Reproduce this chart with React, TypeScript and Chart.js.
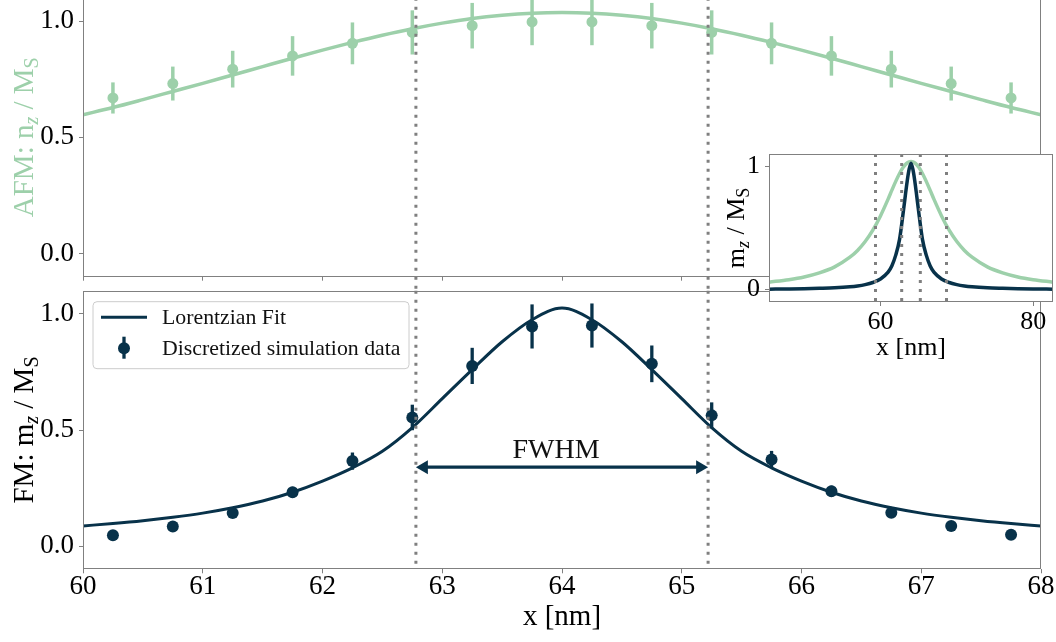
import React, { useEffect, useRef } from 'react';
import { Chart, registerables } from 'chart.js';
Chart.register(...registerables);

// ---------------- data ----------------
const fitX = [60, 60.25, 60.5, 60.75, 61, 61.25, 61.5, 61.75, 62, 62.25, 62.5, 62.75, 63, 63.25, 63.5, 63.75, 64,
  64.25, 64.5, 64.75, 65, 65.25, 65.5, 65.75, 66, 66.25, 66.5, 66.75, 67, 67.25, 67.5, 67.75, 68];
const fmFit = [0.087, 0.097, 0.109, 0.124, 0.142, 0.165, 0.194, 0.232, 0.280, 0.337, 0.408, 0.510, 0.635, 0.760, 0.880, 0.975, 1.025,
  0.975, 0.880, 0.760, 0.635, 0.510, 0.408, 0.337, 0.280, 0.232, 0.194, 0.165, 0.142, 0.124, 0.109, 0.097, 0.087];
const afmFit = [0.597, 0.628, 0.662, 0.697, 0.732, 0.768, 0.804, 0.840, 0.875, 0.908, 0.939, 0.967, 0.991, 1.011, 1.025, 1.034, 1.037,
  1.034, 1.025, 1.011, 0.991, 0.967, 0.939, 0.908, 0.875, 0.840, 0.804, 0.768, 0.732, 0.697, 0.662, 0.628, 0.597];

const dataX = [60.25, 60.75, 61.25, 61.75, 62.25, 62.75, 63.25, 63.75, 64.25, 64.75, 65.25, 65.75, 66.25, 66.75, 67.25, 67.75];
const fmData = [0.047, 0.084, 0.143, 0.232, 0.366, 0.554, 0.776, 0.946, 0.950, 0.785, 0.563, 0.373, 0.236, 0.144, 0.086, 0.049];
const fmErr = [0.005, 0.008, 0.014, 0.023, 0.037, 0.055, 0.078, 0.095, 0.095, 0.079, 0.056, 0.037, 0.024, 0.014, 0.009, 0.005];
const afmData = [0.669, 0.731, 0.793, 0.850, 0.904, 0.951, 0.980, 0.996, 0.996, 0.980, 0.951, 0.904, 0.850, 0.793, 0.731, 0.669];
const afmErr = [0.067, 0.073, 0.079, 0.085, 0.090, 0.095, 0.098, 0.100, 0.100, 0.098, 0.095, 0.090, 0.085, 0.079, 0.073, 0.067];

const insetX = [45.4, 48, 50, 52, 54, 56, 57, 58, 59, 60, 61, 61.5, 62, 62.5, 63, 63.25, 63.5, 63.75, 64, 64.25, 64.5, 64.75, 65,
  65.5, 66, 66.5, 67, 68, 69, 70, 71, 72, 74, 76, 78, 80, 82.6];
const insetAFM = [0.061, 0.081, 0.103, 0.136, 0.185, 0.263, 0.318, 0.390, 0.482, 0.598, 0.734, 0.807, 0.878, 0.942, 0.994, 1.013,
  1.028, 1.037, 1.040, 1.037, 1.028, 1.013, 0.994, 0.942, 0.878, 0.807, 0.734, 0.598, 0.482, 0.390, 0.318, 0.263, 0.185, 0.136,
  0.103, 0.081, 0.061];
const insetFM = [0.004, 0.006, 0.008, 0.011, 0.015, 0.023, 0.030, 0.041, 0.058, 0.087, 0.142, 0.194, 0.280, 0.408, 0.635, 0.760,
  0.880, 0.975, 1.025, 0.975, 0.880, 0.760, 0.635, 0.408, 0.280, 0.194, 0.142, 0.087, 0.058, 0.041, 0.030, 0.023, 0.015, 0.011,
  0.008, 0.006, 0.004];

const mainXTicks = [60, 61, 62, 63, 64, 65, 66, 67, 68];
const mainYTicks = [0, 0.5, 1.0];
const insetXTicks = [60, 80];
const insetYTicks = [0, 1];
const fwhmLines = [62.78, 65.22];
const insetLines = [59.35, 62.78, 65.22, 68.65];
const fwhmArrowY = 0.34;
const fwhmLabel = { text: 'FWHM', x: 63.95, y: 0.409 };
const seriesNames = ['Lorentzian Fit', 'Discretized simulation data'];

// ---------------- style ----------------
const GREEN = '#9dd0aa';
const NAVY = '#08324a';
const SPINE = '#808080';
const DOTC = '#7f7f7f';
const SERIF = "'Liberation Serif', 'DejaVu Serif', serif";

type Part = { t: string; sub?: boolean; it?: boolean };
const topLabel: Part[] = [{ t: 'AFM: n' }, { t: 'z', sub: true, it: true }, { t: ' / M' }, { t: 'S', sub: true }];
const botLabel: Part[] = [{ t: 'FM: m' }, { t: 'z', sub: true, it: true }, { t: ' / M' }, { t: 'S', sub: true }];
const insLabel: Part[] = [{ t: 'm' }, { t: 'z', sub: true, it: true }, { t: ' / M' }, { t: 'S', sub: true }];

const zip = (xs: number[], ys: number[]) => xs.map((x, i) => ({ x, y: ys[i] }));

function richText(ctx: CanvasRenderingContext2D, parts: Part[], size: number, cx: number, cy: number, rotated: boolean, color: string) {
  ctx.save();
  ctx.fillStyle = color;
  ctx.textBaseline = 'alphabetic';
  ctx.textAlign = 'left';
  const fontFor = (p: Part) => `${p.it ? 'italic ' : ''}${p.sub ? Math.round(size * 0.7) : size}px ${SERIF}`;
  let total = 0;
  const widths = parts.map((p) => {
    ctx.font = fontFor(p);
    const w = ctx.measureText(p.t).width;
    total += w;
    return w;
  });
  ctx.translate(cx, cy);
  if (rotated) ctx.rotate(-Math.PI / 2);
  let x = -total / 2;
  parts.forEach((p, i) => {
    ctx.font = fontFor(p);
    ctx.fillText(p.t, x, p.sub ? size * 0.2 : 0);
    x += widths[i];
  });
  ctx.restore();
}

function dotted(ctx: CanvasRenderingContext2D, x: number, y1: number, y2: number) {
  ctx.save();
  ctx.strokeStyle = DOTC;
  ctx.lineWidth = 3;
  ctx.setLineDash([3, 6]);
  ctx.lineCap = 'butt';
  ctx.beginPath();
  ctx.moveTo(x, y1);
  ctx.lineTo(x, y2);
  ctx.stroke();
  ctx.restore();
}

type PanelOpts = {
  err?: { xs: number[]; ys: number[]; es: number[]; color: string; width: number; index: number };
  vlines: number[];
  vlineToCanvasBottom?: boolean;
  ylabel: { parts: Part[]; size: number; color: string; baselineX: number };
  white?: boolean;
  extra?: (chart: any) => void;
};

function panelPlugin(o: PanelOpts) {
  return {
    id: 'panel',
    beforeDraw(chart: any) {
      if (o.white) {
        const ca = chart.chartArea;
        const ctx = chart.ctx;
        ctx.save();
        ctx.fillStyle = '#ffffff';
        ctx.fillRect(ca.left, ca.top, ca.right - ca.left, ca.bottom - ca.top);
        ctx.restore();
      }
    },
    beforeDatasetDraw(chart: any, args: any) {
      if (o.err && args.index === o.err.index) {
        const { xs, ys, es, color, width } = o.err;
        const sx = chart.scales.x;
        const sy = chart.scales.y;
        const ctx = chart.ctx;
        ctx.save();
        ctx.strokeStyle = color;
        ctx.lineWidth = width;
        ctx.lineCap = 'butt';
        xs.forEach((x, i) => {
          const px = sx.getPixelForValue(x);
          ctx.beginPath();
          ctx.moveTo(px, sy.getPixelForValue(ys[i] - es[i]));
          ctx.lineTo(px, sy.getPixelForValue(ys[i] + es[i]));
          ctx.stroke();
        });
        ctx.restore();
      }
    },
    afterDatasetsDraw(chart: any) {
      const ca = chart.chartArea;
      const ctx = chart.ctx;
      const sx = chart.scales.x;
      o.vlines.forEach((v) => dotted(ctx, sx.getPixelForValue(v), ca.top, o.vlineToCanvasBottom ? chart.height : ca.bottom));
      if (o.extra) o.extra(chart);
    },
    afterDraw(chart: any) {
      const ca = chart.chartArea;
      const ctx = chart.ctx;
      ctx.save();
      ctx.strokeStyle = SPINE;
      ctx.lineWidth = 1;
      const l = Math.round(ca.left) + 0.5;
      const t = Math.round(ca.top) + 0.5;
      const r = Math.round(ca.right) - 0.5;
      const b = Math.round(ca.bottom) - 0.5;
      ctx.strokeRect(l, t, r - l, b - t);
      ctx.restore();
      richText(ctx, o.ylabel.parts, o.ylabel.size, o.ylabel.baselineX, (ca.top + ca.bottom) / 2, true, o.ylabel.color);
    },
  };
}

function xAxis(min: number, max: number, ticks: number[], showLabels: boolean, height: number, fontSize: number, tickPad: number, title?: { text: string; size: number; pb: number }) {
  return {
    type: 'linear',
    min,
    max,
    afterBuildTicks: (s: any) => {
      s.ticks = ticks.map((v) => ({ value: v }));
    },
    afterFit: (s: any) => {
      s.height = height;
      s.paddingLeft = 0;
      s.paddingRight = 0;
      s.paddingTop = 0;
      s.paddingBottom = 0;
    },
    grid: { display: true, drawOnChartArea: false, drawTicks: true, tickLength: 4, color: SPINE, lineWidth: 1 },
    border: { display: false },
    ticks: {
      display: showLabels,
      color: '#000',
      font: { family: SERIF, size: fontSize, lineHeight: 1 },
      padding: tickPad,
      maxRotation: 0,
      autoSkip: false,
      callback: (v: any) => String(v),
    },
    title: title
      ? { display: true, text: title.text, color: '#000', font: { family: SERIF, size: title.size, lineHeight: 1 }, padding: { top: 0, bottom: title.pb } }
      : { display: false },
  };
}

function yAxis(min: number, max: number, ticks: number[], width: number, fontSize: number, digits: number) {
  return {
    type: 'linear',
    min,
    max,
    afterBuildTicks: (s: any) => {
      s.ticks = ticks.map((v) => ({ value: v }));
    },
    afterFit: (s: any) => {
      s.width = width;
      s.paddingTop = 0;
      s.paddingBottom = 0;
      s.paddingLeft = 0;
      s.paddingRight = 0;
    },
    grid: { display: true, drawOnChartArea: false, drawTicks: true, tickLength: 4, color: SPINE, lineWidth: 1 },
    border: { display: false },
    ticks: {
      color: '#000',
      font: { family: SERIF, size: fontSize, lineHeight: 1 },
      padding: 5,
      autoSkip: false,
      callback: (v: any) => Number(v).toFixed(digits),
    },
  };
}

const baseOptions = (padding: any) => ({
  responsive: false,
  animation: false,
  events: [],
  layout: { padding },
  plugins: { legend: { display: false }, tooltip: { enabled: false }, title: { display: false } },
});

function drawLegendAndArrow(chart: any) {
  const ctx = chart.ctx;
  const ca = chart.chartArea;
  const sx = chart.scales.x;
  const sy = chart.scales.y;
  // FWHM arrow
  const xl = sx.getPixelForValue(fwhmLines[0]);
  const xr = sx.getPixelForValue(fwhmLines[1]);
  const ya = sy.getPixelForValue(fwhmArrowY);
  ctx.save();
  ctx.strokeStyle = NAVY;
  ctx.fillStyle = NAVY;
  ctx.lineWidth = 3.3;
  ctx.beginPath();
  ctx.moveTo(xl + 8, ya);
  ctx.lineTo(xr - 8, ya);
  ctx.stroke();
  ctx.beginPath();
  ctx.moveTo(xl, ya);
  ctx.lineTo(xl + 12, ya - 7);
  ctx.lineTo(xl + 12, ya + 7);
  ctx.closePath();
  ctx.fill();
  ctx.beginPath();
  ctx.moveTo(xr, ya);
  ctx.lineTo(xr - 12, ya - 7);
  ctx.lineTo(xr - 12, ya + 7);
  ctx.closePath();
  ctx.fill();
  ctx.fillStyle = '#111';
  ctx.font = `28px ${SERIF}`;
  ctx.textAlign = 'center';
  ctx.textBaseline = 'middle';
  ctx.fillText(fwhmLabel.text, sx.getPixelForValue(fwhmLabel.x), sy.getPixelForValue(fwhmLabel.y));
  ctx.restore();

  // legend
  const bx = ca.left + 10;
  const by = ca.top + 11;
  const bw = 316;
  const bh = 67;
  const rr = 4;
  ctx.save();
  ctx.beginPath();
  ctx.moveTo(bx + rr, by);
  ctx.lineTo(bx + bw - rr, by);
  ctx.arcTo(bx + bw, by, bx + bw, by + rr, rr);
  ctx.lineTo(bx + bw, by + bh - rr);
  ctx.arcTo(bx + bw, by + bh, bx + bw - rr, by + bh, rr);
  ctx.lineTo(bx + rr, by + bh);
  ctx.arcTo(bx, by + bh, bx, by + bh - rr, rr);
  ctx.lineTo(bx, by + rr);
  ctx.arcTo(bx, by, bx + rr, by, rr);
  ctx.closePath();
  ctx.fillStyle = 'rgba(255,255,255,0.8)';
  ctx.fill();
  ctx.strokeStyle = '#cccccc';
  ctx.lineWidth = 1;
  ctx.stroke();
  ctx.strokeStyle = NAVY;
  ctx.lineWidth = 3;
  ctx.beginPath();
  ctx.moveTo(bx + 8, by + 15.6);
  ctx.lineTo(bx + 54, by + 15.6);
  ctx.stroke();
  ctx.lineWidth = 3.3;
  ctx.beginPath();
  ctx.moveTo(bx + 31, by + 35);
  ctx.lineTo(bx + 31, by + 57);
  ctx.stroke();
  ctx.fillStyle = NAVY;
  ctx.beginPath();
  ctx.arc(bx + 31, by + 46.6, 6, 0, Math.PI * 2);
  ctx.fill();
  ctx.fillStyle = '#111';
  ctx.font = `21.8px ${SERIF}`;
  ctx.textAlign = 'left';
  ctx.textBaseline = 'middle';
  ctx.fillText(seriesNames[0], bx + 69, by + 16.5);
  ctx.fillText(seriesNames[1], bx + 69, by + 47.5);
  ctx.restore();
}

export default function App() {
  const topRef = useRef<HTMLCanvasElement>(null);
  const botRef = useRef<HTMLCanvasElement>(null);
  const insRef = useRef<HTMLCanvasElement>(null);

  useEffect(() => {
    const charts: Chart[] = [];

    charts.push(
      new Chart(topRef.current as HTMLCanvasElement, {
        type: 'line',
        data: {
          datasets: [
            { data: zip(fitX, afmFit), borderColor: GREEN, borderWidth: 3.5, pointRadius: 0, cubicInterpolationMode: 'monotone', fill: false, order: 1 },
            { data: zip(dataX, afmData), showLine: false, pointRadius: 5.5, pointBackgroundColor: GREEN, pointBorderWidth: 0, borderColor: GREEN, order: 0 },
          ],
        },
        options: {
          ...baseOptions({ top: 7.8, left: 0, right: 15, bottom: 0 }),
          scales: {
            x: xAxis(60, 68, mainXTicks, false, 13.3, 27, 0),
            y: yAxis(-0.1, 1.1, mainYTicks, 83, 27, 1),
          },
        } as any,
        plugins: [
          panelPlugin({
            err: { xs: dataX, ys: afmData, es: afmErr, color: GREEN, width: 3.5, index: 1 },
            vlines: fwhmLines,
            vlineToCanvasBottom: true,
            ylabel: { parts: topLabel, size: 29, color: GREEN, baselineX: 32.5 },
          }) as any,
        ],
      } as any)
    );

    charts.push(
      new Chart(botRef.current as HTMLCanvasElement, {
        type: 'line',
        data: {
          datasets: [
            { data: zip(fitX, fmFit), borderColor: NAVY, borderWidth: 3, pointRadius: 0, cubicInterpolationMode: 'monotone', fill: false, order: 1 },
            { data: zip(dataX, fmData), showLine: false, pointRadius: 6, pointBackgroundColor: NAVY, pointBorderWidth: 0, borderColor: NAVY, order: 0 },
          ],
        },
        options: {
          ...baseOptions({ top: 10.7, left: 0, right: 15, bottom: 0 }),
          scales: {
            x: xAxis(60, 68, mainXTicks, true, 72.7, 27, 0, { text: 'x [nm]', size: 29, pb: 10 }),
            y: yAxis(-0.1, 1.1, mainYTicks, 83, 27, 1),
          },
        } as any,
        plugins: [
          panelPlugin({
            err: { xs: dataX, ys: fmData, es: fmErr, color: NAVY, width: 3.3, index: 1 },
            vlines: fwhmLines,
            ylabel: { parts: botLabel, size: 29, color: '#000', baselineX: 32.5 },
            extra: drawLegendAndArrow,
          }) as any,
        ],
      } as any)
    );

    charts.push(
      new Chart(insRef.current as HTMLCanvasElement, {
        type: 'line',
        data: {
          datasets: [
            { data: zip(insetX, insetAFM), borderColor: GREEN, borderWidth: 3.5, pointRadius: 0, cubicInterpolationMode: 'monotone', fill: false, order: 1 },
            { data: zip(insetX, insetFM), borderColor: NAVY, borderWidth: 3.5, pointRadius: 0, cubicInterpolationMode: 'monotone', fill: false, order: 0 },
          ],
        },
        options: {
          ...baseOptions({ top: 4, left: 0, right: 3, bottom: 0 }),
          scales: {
            x: xAxis(45.4, 82.6, insetXTicks, true, 63, 26, 2.7, { text: 'x [nm]', size: 26, pb: 4 }),
            y: yAxis(-0.1, 1.1, insetYTicks, 69, 26, 0),
          },
        } as any,
        plugins: [
          panelPlugin({
            vlines: insetLines,
            white: true,
            ylabel: { parts: insLabel, size: 26, color: '#000', baselineX: 44 },
          }) as any,
        ],
      } as any)
    );

    return () => charts.forEach((c) => c.destroy());
  }, []);

  return (
    <div style={{ position: 'fixed', left: 0, top: 0, width: 1056, height: 642, overflow: 'hidden', background: '#ffffff' }}>
      <canvas ref={topRef} width={1056} height={300} style={{ position: 'absolute', left: 0, top: -10, width: 1056, height: 300 }} />
      <canvas ref={botRef} width={1056} height={362} style={{ position: 'absolute', left: 0, top: 280, width: 1056, height: 362 }} />
      <canvas ref={insRef} width={356} height={215} style={{ position: 'absolute', left: 700, top: 150, width: 356, height: 215 }} />
    </div>
  );
}
